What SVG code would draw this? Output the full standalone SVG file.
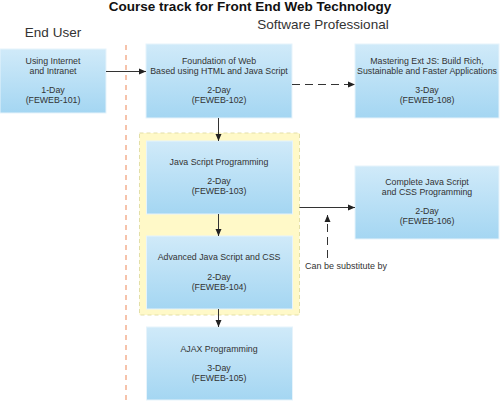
<svg xmlns="http://www.w3.org/2000/svg" width="500" height="401" viewBox="0 0 500 401">
<style>
text{font-family:"Liberation Sans",Arial,sans-serif;fill:#333;}
.t{font-size:8.8px;text-anchor:middle;}
.box{fill:url(#g);stroke:#e6f3fb;stroke-width:1;}
.ln{stroke:#333;stroke-width:1;fill:none;}
.dash{stroke-dasharray:8,5;}
</style>
<defs>
<linearGradient id="g" x1="0" y1="0" x2="0" y2="1">
<stop offset="0" stop-color="#d0eaf9"/>
<stop offset="1" stop-color="#a4d6f2"/>
</linearGradient>
<marker id="a" markerWidth="8" markerHeight="8" refX="7" refY="4" orient="auto" markerUnits="userSpaceOnUse">
<path d="M0,1 L7,4 L0,7 Z" fill="#222"/>
</marker>
</defs>
<rect width="500" height="401" fill="#fff"/>
<text x="250" y="10.5" font-size="13.5" font-weight="bold" text-anchor="middle" style="fill:#111">Course track for Front End Web Technology</text>
<text x="53" y="37" font-size="13.5" text-anchor="middle">End User</text>
<text x="323" y="29" font-size="13.5" text-anchor="middle">Software Professional</text>
<line x1="126" y1="45" x2="126" y2="401" stroke="#f6c3ab" stroke-width="2" stroke-dasharray="5,5"/>
<rect id="container" x="139.5" y="133" width="160" height="182" fill="#fff9c8" stroke="#e3dfa8" stroke-width="1" stroke-dasharray="4,3"/>
<g id="n101"><rect class="box" x="0" y="49" width="106" height="64"/>
<text class="t" x="53" y="64">Using Internet</text><text class="t" x="53" y="73.5">and Intranet</text><text class="t" x="53" y="93">1-Day</text><text class="t" x="53" y="102.5">(FEWEB-101)</text></g>
<g id="n102"><rect class="box" x="146" y="44" width="146" height="74"/>
<text class="t" x="219" y="64">Foundation of Web</text><text class="t" x="219" y="73.5">Based using HTML and Java Script</text><text class="t" x="219" y="93">2-Day</text><text class="t" x="219" y="102.5">(FEWEB-102)</text></g>
<g id="n108"><rect class="box" x="355" y="44" width="144" height="74"/>
<text class="t" x="427" y="64">Mastering Ext JS: Build Rich,</text><text class="t" x="427" y="73.5">Sustainable and Faster Applications</text><text class="t" x="427" y="93">3-Day</text><text class="t" x="427" y="102.5">(FEWEB-108)</text></g>
<g id="n103"><rect class="box" x="146.5" y="141" width="146" height="73"/>
<text class="t" x="219" y="165">Java Script Programming</text><text class="t" x="219" y="184">2-Day</text><text class="t" x="219" y="194">(FEWEB-103)</text></g>
<g id="n104"><rect class="box" x="146.5" y="236" width="146" height="73"/>
<text class="t" x="219" y="260">Advanced Java Script and CSS</text><text class="t" x="219" y="279.5">2-Day</text><text class="t" x="219" y="289.5">(FEWEB-104)</text></g>
<g id="n105"><rect class="box" x="146.5" y="327" width="146" height="73"/>
<text class="t" x="219" y="352">AJAX Programming</text><text class="t" x="219" y="371">3-Day</text><text class="t" x="219" y="381">(FEWEB-105)</text></g>
<g id="n106"><rect class="box" x="355" y="166" width="144" height="73"/>
<text class="t" x="427" y="185">Complete Java Script</text><text class="t" x="427" y="195">and CSS Programming</text><text class="t" x="427" y="214">2-Day</text><text class="t" x="427" y="224">(FEWEB-106)</text></g>
<g id="connectors">
<line class="ln" x1="106" y1="71.5" x2="146" y2="71.5" marker-end="url(#a)"/>
<line class="ln dash" x1="292" y1="84.5" x2="355" y2="84.5" marker-end="url(#a)"/>
<line class="ln" x1="218.5" y1="118" x2="218.5" y2="141" marker-end="url(#a)"/>
<line class="ln" x1="218.5" y1="214" x2="218.5" y2="236" marker-end="url(#a)"/>
<line class="ln" x1="218.5" y1="309" x2="218.5" y2="327" marker-end="url(#a)"/>
<line class="ln" x1="299.5" y1="207.5" x2="355" y2="207.5" marker-end="url(#a)"/>
<line class="ln dash" x1="327.5" y1="258" x2="327.5" y2="215" marker-end="url(#a)"/>
</g>
<text x="305" y="269" font-size="9">Can be substitute by</text>
</svg>
